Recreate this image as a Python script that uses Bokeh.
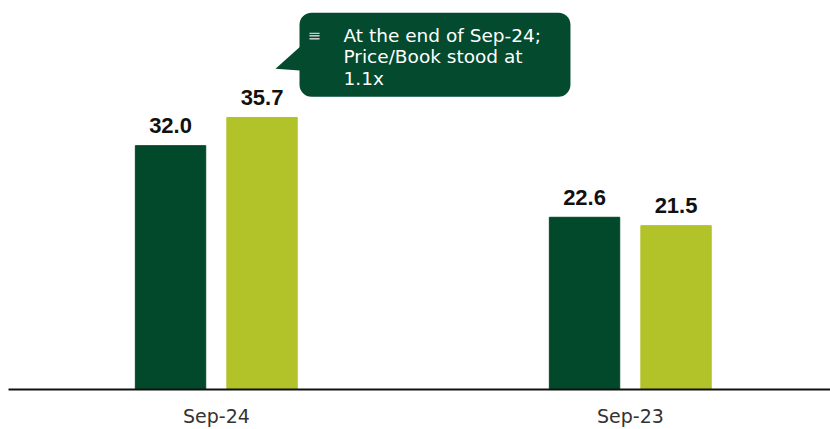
from bokeh.plotting import figure
from bokeh.models import ColumnDataSource, FixedTicker, Label, Range1d
from bokeh.transform import dodge
from bokeh.core.properties import value
from bokeh.embed import file_html
from bokeh.resources import INLINE

categories = ["Sep-24", "Sep-23"]
series_a = [32.0, 22.6]
series_b = [35.7, 21.5]

DARK = "#02482b"
LIGHT = "#b2c229"
FONT = "DejaVu Sans"
NUMFONT = "Liberation Sans"

xs = list(range(len(categories)))
src = ColumnDataSource(dict(
    x=xs, a=series_a, b=series_b,
    la=[f"{v:.1f}" for v in series_a], lb=[f"{v:.1f}" for v in series_b],
))

p = figure(frame_width=822, frame_height=381, output_backend="svg", toolbar_location=None,
           x_range=Range1d(-0.5024, 1.4831), y_range=Range1d(0, 50),
           min_border_left=8, min_border_right=0, min_border_top=8, min_border_bottom=0)
p.outline_line_color = None
p.xgrid.visible = False
p.ygrid.visible = False
p.yaxis.visible = False

p.vbar(x=dodge("x", -0.111), top="a", width=0.17, source=src, color=DARK)
p.vbar(x=dodge("x", 0.110), top="b", width=0.17, source=src, color=LIGHT)

p.text(x=dodge("x", -0.111), y="a", text="la", source=src, y_offset=-20,
       text_align="center", text_baseline="alphabetic", text_font=value(NUMFONT),
       text_font_style="bold", text_font_size="22px", text_color="#111111")
p.text(x=dodge("x", 0.110), y="b", text="lb", source=src, y_offset=-20,
       text_align="center", text_baseline="alphabetic", text_font=value(NUMFONT),
       text_font_style="bold", text_font_size="22px", text_color="#111111")

ax = p.xaxis[0]
ax.ticker = FixedTicker(ticks=xs)
ax.major_label_overrides = {i: c for i, c in zip(xs, categories)}
ax.major_tick_line_color = None
ax.minor_tick_line_color = None
ax.axis_line_color = "#111111"
ax.axis_line_width = 2
ax.major_label_standoff = 9
ax.major_label_text_font = FONT
ax.major_label_text_font_size = "19px"
ax.major_label_text_color = "#333333"

# callout box
BOX = "#034a2e"
p.quad(left=[0.2005], right=[0.855], top=[49.44], bottom=[38.43],
       fill_color=BOX, line_color=None, border_radius=12)
p.patch(x=[0.2100, 0.1425, 0.2100], y=[45.38, 42.1, 41.84], fill_color=BOX, line_color=None)

lines = [" At the end of Sep-24;", "Price/Book stood at", "1.1x"]
line_y = [46.49, 43.67, 40.85]
for t, ly in zip(lines, line_y):
    p.add_layout(Label(x=0.3068, y=ly, text=t, text_color="white", text_font=FONT,
                       text_font_size="18.5px", text_baseline="middle", text_align="left"))
p.add_layout(Label(x=0.2198, y=46.5, text="≡", text_color="#c8c8c8", text_font=FONT,
                   text_font_size="16px", text_baseline="middle", text_align="left"))

open("out.html", "w").write(file_html(p, INLINE))
